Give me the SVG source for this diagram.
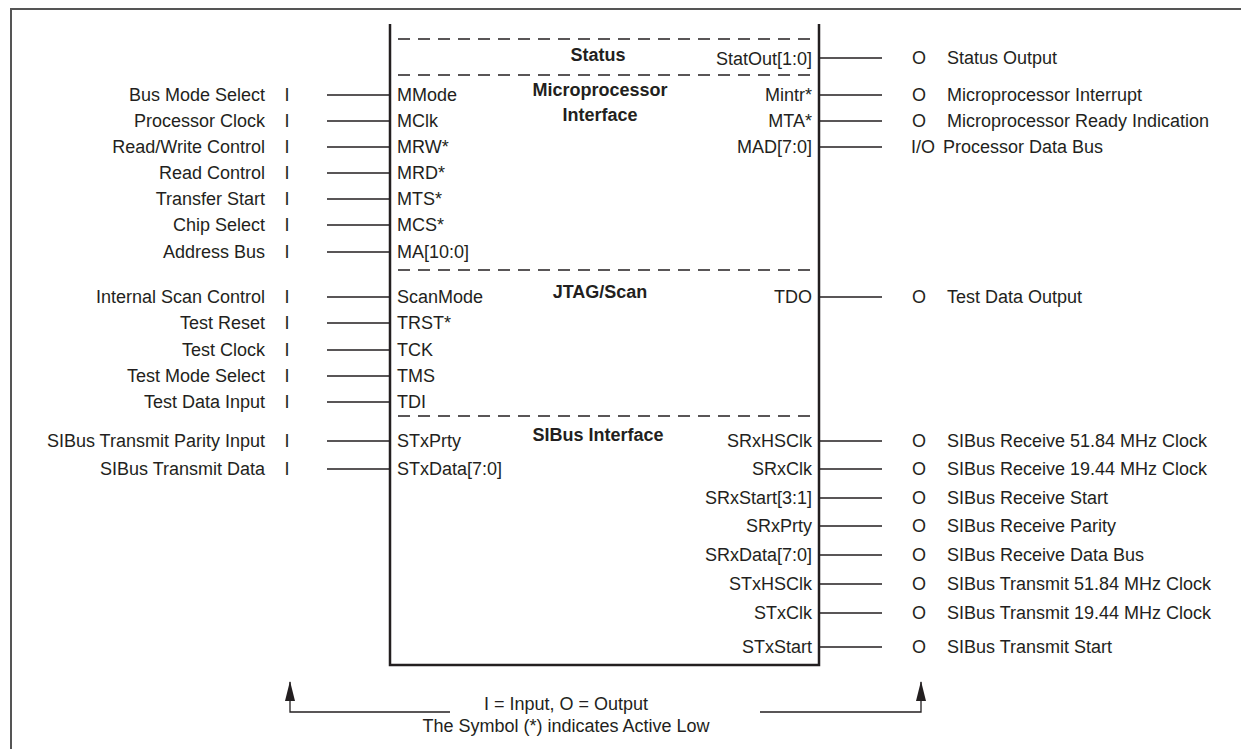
<svg xmlns="http://www.w3.org/2000/svg" width="1241" height="749" viewBox="0 0 1241 749">
<style>
text{font-family:"Liberation Sans",Arial,sans-serif;font-size:18px;fill:#231f20}
.b{font-weight:bold}
.r{text-anchor:end}
.m{text-anchor:middle}
.pin{stroke:#231f20;stroke-width:1.3;fill:none}
.dash{stroke:#231f20;stroke-width:1.3;stroke-dasharray:12 8;fill:none}
</style>
<defs>
<marker id="ah" viewBox="0 0 20 10" refX="19" refY="5" markerWidth="20" markerHeight="10" markerUnits="userSpaceOnUse" orient="auto">
<path d="M0,0 L20,5 L0,10 Z" fill="#231f20"/>
</marker>
</defs>
<rect width="1241" height="749" fill="#fff"/>
<path d="M11,749 V9 H1241" fill="none" stroke="#555" stroke-width="2"/>

<g id="chip">
<path d="M390,24 V665 H819 V24" fill="none" stroke="#231f20" stroke-width="2.5"/>
<line class="dash" x1="398" y1="39" x2="812" y2="39"/>
<line class="dash" x1="398" y1="75" x2="812" y2="75"/>
<line class="dash" x1="398" y1="270" x2="812" y2="270"/>
<line class="dash" x1="398" y1="416" x2="812" y2="416"/>
<text class="b m" x="598" y="61">Status</text>
<text class="b m" x="600" y="96">Microprocessor</text>
<text class="b m" x="600" y="121">Interface</text>
<text class="b m" x="600" y="298">JTAG/Scan</text>
<text class="b m" x="598" y="441">SIBus Interface</text>
</g>

<g id="connectors">
<path class="pin" d="M327,95H390M327,121H390M327,147H390M327,173H390M327,199H390M327,225H390M327,252H390M327,297H390M327,323H390M327,350H390M327,376H390M327,402H390M327,441H390M327,469H390"/>
<path class="pin" d="M819,58H882M819,95H882M819,121H882M819,147H882M819,297H882M819,441H882M819,469H882M819,498H882M819,526H882M819,555H882M819,584H882M819,613H882M819,647H882"/>
<path class="pin" d="M450,712H290V682" marker-end="url(#ah)"/>
<path class="pin" d="M760,712H921V682" marker-end="url(#ah)"/>
</g>

<g id="inputs">
<text class="r" x="265" y="101">Bus Mode Select</text><text class="m" x="287" y="101">I</text><text x="397" y="101">MMode</text>
<text class="r" x="265" y="127">Processor Clock</text><text class="m" x="287" y="127">I</text><text x="397" y="127">MClk</text>
<text class="r" x="265" y="153">Read/Write Control</text><text class="m" x="287" y="153">I</text><text x="397" y="153">MRW*</text>
<text class="r" x="265" y="179">Read Control</text><text class="m" x="287" y="179">I</text><text x="397" y="179">MRD*</text>
<text class="r" x="265" y="205">Transfer Start</text><text class="m" x="287" y="205">I</text><text x="397" y="205">MTS*</text>
<text class="r" x="265" y="231">Chip Select</text><text class="m" x="287" y="231">I</text><text x="397" y="231">MCS*</text>
<text class="r" x="265" y="258">Address Bus</text><text class="m" x="287" y="258">I</text><text x="397" y="258">MA[10:0]</text>
<text class="r" x="265" y="303">Internal Scan Control</text><text class="m" x="287" y="303">I</text><text x="397" y="303">ScanMode</text>
<text class="r" x="265" y="329">Test Reset</text><text class="m" x="287" y="329">I</text><text x="397" y="329">TRST*</text>
<text class="r" x="265" y="356">Test Clock</text><text class="m" x="287" y="356">I</text><text x="397" y="356">TCK</text>
<text class="r" x="265" y="382">Test Mode Select</text><text class="m" x="287" y="382">I</text><text x="397" y="382">TMS</text>
<text class="r" x="265" y="408">Test Data Input</text><text class="m" x="287" y="408">I</text><text x="397" y="408">TDI</text>
<text class="r" x="265" y="447">SIBus Transmit Parity Input</text><text class="m" x="287" y="447">I</text><text x="397" y="447">STxPrty</text>
<text class="r" x="265" y="475">SIBus Transmit Data</text><text class="m" x="287" y="475">I</text><text x="397" y="475">STxData[7:0]</text>
</g>

<g id="outputs">
<text class="r" x="812" y="65">StatOut[1:0]</text><text class="m" x="919" y="64">O</text><text x="947" y="64">Status Output</text>
<text class="r" x="812" y="101">Mintr*</text><text class="m" x="919" y="101">O</text><text x="947" y="101">Microprocessor Interrupt</text>
<text class="r" x="812" y="127">MTA*</text><text class="m" x="919" y="127">O</text><text x="947" y="127">Microprocessor Ready Indication</text>
<text class="r" x="812" y="153">MAD[7:0]</text><text x="911" y="153">I/O</text><text x="943" y="153">Processor Data Bus</text>
<text class="r" x="812" y="303">TDO</text><text class="m" x="919" y="303">O</text><text x="947" y="303">Test Data Output</text>
<text class="r" x="812" y="447">SRxHSClk</text><text class="m" x="919" y="447">O</text><text x="947" y="447">SIBus Receive 51.84 MHz Clock</text>
<text class="r" x="812" y="475">SRxClk</text><text class="m" x="919" y="475">O</text><text x="947" y="475">SIBus Receive 19.44 MHz Clock</text>
<text class="r" x="812" y="504">SRxStart[3:1]</text><text class="m" x="919" y="504">O</text><text x="947" y="504">SIBus Receive Start</text>
<text class="r" x="812" y="532">SRxPrty</text><text class="m" x="919" y="532">O</text><text x="947" y="532">SIBus Receive Parity</text>
<text class="r" x="812" y="561">SRxData[7:0]</text><text class="m" x="919" y="561">O</text><text x="947" y="561">SIBus Receive Data Bus</text>
<text class="r" x="812" y="590">STxHSClk</text><text class="m" x="919" y="590">O</text><text x="947" y="590">SIBus Transmit 51.84 MHz Clock</text>
<text class="r" x="812" y="619">STxClk</text><text class="m" x="919" y="619">O</text><text x="947" y="619">SIBus Transmit 19.44 MHz Clock</text>
<text class="r" x="812" y="653">STxStart</text><text class="m" x="919" y="653">O</text><text x="947" y="653">SIBus Transmit Start</text>
</g>

<g id="legend">
<text class="m" x="566" y="710">I = Input, O = Output</text>
<text class="m" x="566" y="732">The Symbol (*) indicates Active Low</text>
</g>
</svg>
